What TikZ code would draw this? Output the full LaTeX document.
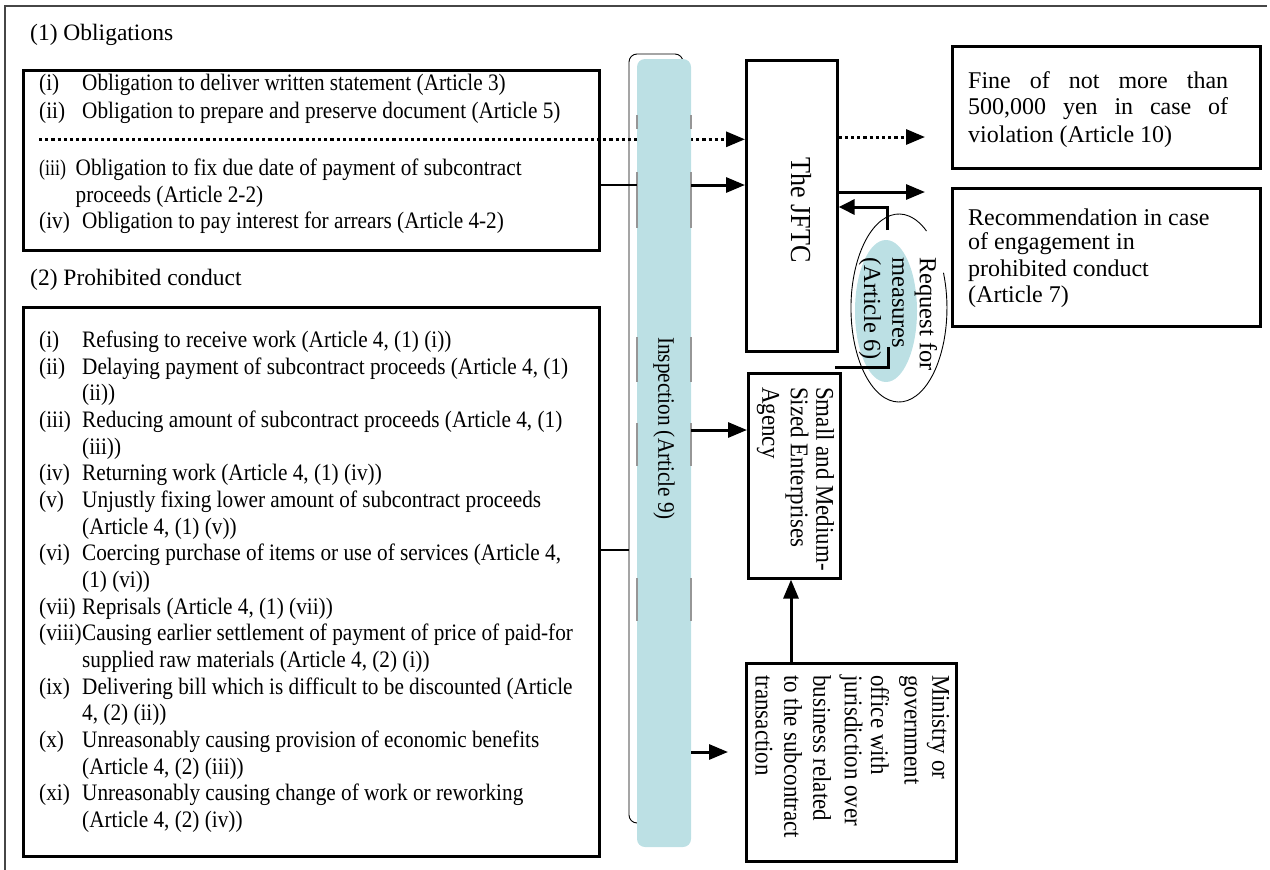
\documentclass[tikz,border=0pt]{standalone}
\usepackage{fontspec}
\setmainfont{Liberation Serif}
\newfontfamily\condfont{Liberation Serif}[FakeStretch=0.9]
\newfontfamily\narrowfont{Liberation Serif}[FakeStretch=0.8]
\usetikzlibrary{arrows.meta,shapes.geometric}
\definecolor{barblue}{RGB}{188,224,228}
\definecolor{framegray}{RGB}{70,70,70}
\definecolor{edgegray}{RGB}{150,150,150}
\pgfdeclarelayer{bg}
\pgfsetlayers{bg,main}
\newcommand\boxitem[4]{\node[lt] (#1l) at (39,{#2}) {#3}; \node[lt] (#1t) at (82,{#2}) {#4};}
\newcommand\boxcont[3]{\node[lt] (#1) at (82,{#2}) {#3};}
\begin{document}
\begin{tikzpicture}[x=1pt,y=-1pt,
  bx/.style={draw=black,line width=2.6pt,inner sep=0pt,anchor=north west},
  lt/.style={anchor=west,inner sep=0pt,font=\condfont\fontsize{23.6}{26.67}\selectfont},
  hd/.style={anchor=west,inner sep=0pt,font=\fontsize{23.5}{28}\selectfont},
  rtx/.style={anchor=west,inner sep=0pt,font=\fontsize{24}{27}\selectfont},
  vtx/.style={rotate=-90,anchor=west,inner sep=0pt,font=\condfont\fontsize{25.5}{29}\selectfont},
  vreq/.style={rotate=-90,anchor=west,inner sep=0pt,font=\fontsize{24.5}{28}\selectfont},
  tipbig/.style={-{Triangle[length=19pt,width=15pt]}},
  arr/.style={tipbig,line width=3pt},
  dotln/.style={line width=3pt,dash pattern=on 3.2pt off 3pt},
  edgeseg/.style={edgegray,line width=1.3pt}]
\useasboundingbox (0,0) rectangle (1270,870);

% outer frame
\draw[framegray,line width=1.4pt] (5,870) -- (5,6) -- (1267,6);

% headings
\node[hd] (h1) at (30,35) {(1) Obligations};
\node[hd] (h2) at (30,280) {(2) Prohibited conduct};

% left boxes
\node[bx,minimum width=576,minimum height=180] (box1) at (22,69) {};
\node[bx,minimum width=576,minimum height=549] (box2) at (22,306) {};

% box 1 text
\boxitem{oa}{85}{(i)}{Obligation to deliver written statement (Article 3)}
\boxitem{ob}{112.7}{(ii)}{Obligation to prepare and preserve document (Article 5)}
\node[lt,font=\narrowfont\fontsize{22.5}{24}\selectfont] (ocl) at (39,170) {(iii)};
\node[lt] (oct) at (75.5,170) {Obligation to fix due date of payment of subcontract};
\node[lt] (occ) at (75.5,196.7) {proceeds (Article 2-2)};
\boxitem{od}{222.7}{(iv)}{Obligation to pay interest for arrears (Article 4-2)}

% box 2 text
\boxitem{pa}{341.7}{(i)}{Refusing to receive work (Article 4, (1) (i))}
\boxitem{pb}{341.7+26.67*1}{(ii)}{Delaying payment of subcontract proceeds (Article 4, (1)}
\boxcont{pbc}{341.7+26.67*2}{(ii))}
\boxitem{pc}{341.7+26.67*3}{(iii)}{Reducing amount of subcontract proceeds (Article 4, (1)}
\boxcont{pcc}{341.7+26.67*4}{(iii))}
\boxitem{pd}{341.7+26.67*5}{(iv)}{Returning work (Article 4, (1) (iv))}
\boxitem{pe}{341.7+26.67*6}{(v)}{Unjustly fixing lower amount of subcontract proceeds}
\boxcont{pec}{341.7+26.67*7}{(Article 4, (1) (v))}
\boxitem{pf}{341.7+26.67*8}{(vi)}{Coercing purchase of items or use of services (Article 4,}
\boxcont{pfc}{341.7+26.67*9}{(1) (vi))}
\boxitem{pg}{341.7+26.67*10}{(vii)}{Reprisals (Article 4, (1) (vii))}
\boxitem{ph}{341.7+26.67*11}{(viii)}{Causing earlier settlement of payment of price of paid-for}
\boxcont{phc}{341.7+26.67*12}{supplied raw materials (Article 4, (2) (i))}
\boxitem{pi}{341.7+26.67*13}{(ix)}{Delivering bill which is difficult to be discounted (Article}
\boxcont{pic}{341.7+26.67*14}{4, (2) (ii))}
\boxitem{pj}{341.7+26.67*15}{(x)}{Unreasonably causing provision of economic benefits}
\boxcont{pjc}{341.7+26.67*16}{(Article 4, (2) (iii))}
\boxitem{pk}{341.7+26.67*17}{(xi)}{Unreasonably causing change of work or reworking}
\boxcont{pkc}{341.7+26.67*18}{(Article 4, (2) (iv))}

% inspection bar and bracket
\node[fill=barblue,rounded corners=8pt,minimum width=54,minimum height=788,inner sep=0pt,outer sep=0pt,anchor=north west] (bar) at (637,59) {};
\begin{pgfonlayer}{bg}
\node[draw=black,line width=0.9pt,rounded corners=8pt,minimum width=54,minimum height=769,inner sep=0pt,outer sep=0pt,anchor=north west] (brk) at (629,54) {};
\end{pgfonlayer}
\foreach \a/\b in {115/129,172/228,337/382,423/466,578/621}{
  \draw[edgeseg] (bar.north west |- 0,\a) -- (bar.north west |- 0,\b);
  \draw[edgeseg] (bar.north east |- 0,\a) -- (bar.north east |- 0,\b);
}
\node[rotate=-90,anchor=west,inner sep=0pt,font=\condfont\fontsize{23.6}{26.67}\selectfont] (insp) at (664,337) {Inspection (Article 9)};

% JFTC
\node[bx,minimum width=91,minimum height=291] (jftc) at (745,59) {};
\node[rotate=-90,inner sep=0pt,font=\condfont\fontsize{29}{32}\selectfont] (jftct) at (801,210) {The JFTC};

% right boxes
\node[bx,minimum width=308,minimum height=122] (fine) at (951,45) {};
\node[rtx] (fa) at (968,80) {\makebox[260pt][s]{Fine of not more than}};
\node[rtx] (fb) at (968,108.3) {\makebox[260pt][s]{500,000 yen in case of}};
\node[rtx] (fc) at (968,136.7) {violation (Article 10)};
\node[bx,minimum width=308,minimum height=138] (rec) at (951,187) {};
\node[rtx] (ra) at (968,217) {Recommendation in case};
\node[rtx] (rb) at (968,243.7) {of engagement in};
\node[rtx] (rc) at (968,270.3) {prohibited conduct};
\node[rtx] (rd) at (968,297) {(Article 7)};

% Small and Medium-Sized Enterprises Agency
\node[bx,minimum width=92,minimum height=205] (sme) at (747,372) {};
\node[vtx] (sa) at (825,387) {Small and Medium-};
\node[vtx] (sb) at (797,387) {Sized Enterprises};
\node[vtx] (sc) at (768,387) {Agency};

% Ministry
\node[bx,minimum width=210,minimum height=198] (min) at (745,662) {};
\node[vtx] (ma) at (938,675) {Ministry or};
\node[vtx] (mb) at (909,675) {government};
\node[vtx] (mc) at (880,675) {office with};
\node[vtx] (md) at (851,675) {jurisdiction over};
\node[vtx] (me) at (822,675) {business related};
\node[vtx] (mf) at (793,675) {to the subcontract};
\node[vtx] (mg) at (764,675) {transaction};

% request for measures
\node[ellipse,fill=barblue,minimum width=62,minimum height=142,inner sep=0pt] (bell) at (886,311) {};
\draw[line width=0.9pt] (926.5,231) arc[start angle=55,end angle=382,x radius=48pt,y radius=94pt];
\node[vreq] (qa) at (926,257) {Request for};
\node[vreq] (qb) at (898,257) {measures};
\node[vreq] (qc) at (870,257) {(Article 6)};

% connectors
\coordinate (dotL) at (39,139.3);
\begin{pgfonlayer}{bg}
\draw[dotln,tipbig] (dotL) -- (jftc.west |- dotL);
\end{pgfonlayer}
\coordinate (ys) at (0,185);
\draw[line width=2pt] (box1.east |- ys) -- (bar.west |- ys);
\draw[arr] (bar.east |- ys) -- (jftc.west |- ys);
\coordinate (yp) at (0,550);
\draw[line width=2pt] (box2.east |- yp) -- (brk.west |- yp);
\coordinate (ysme) at (0,430);
\draw[arr] (bar.east |- ysme) -- (sme.west |- ysme);
\coordinate (mtip) at (728,752);
\draw[arr] (bar.east |- mtip) -- (mtip);
\coordinate (vx) at (791,0);
\draw[arr] (min.north -| vx) -- (sme.south -| vx);
\coordinate (fd) at (925,137);
\draw[dotln,tipbig] (jftc.east |- fd) -- (fd);
\coordinate (fs) at (925,192);
\draw[arr] (jftc.east |- fs) -- (fs);
\coordinate (rqa) at (887,230);
\coordinate (rqb) at (887,207);
\draw[line width=3pt,-{Triangle[length=16pt,width=15pt]}] (rqa) -- (rqb) -- (jftc.east |- rqb);
\coordinate (rba) at (888,347);
\coordinate (rbb) at (888,367);
\coordinate (rbc) at (835,367);
\draw[line width=3pt] (rba) -- (rbb) -- (rbc);
\end{tikzpicture}
\end{document}
